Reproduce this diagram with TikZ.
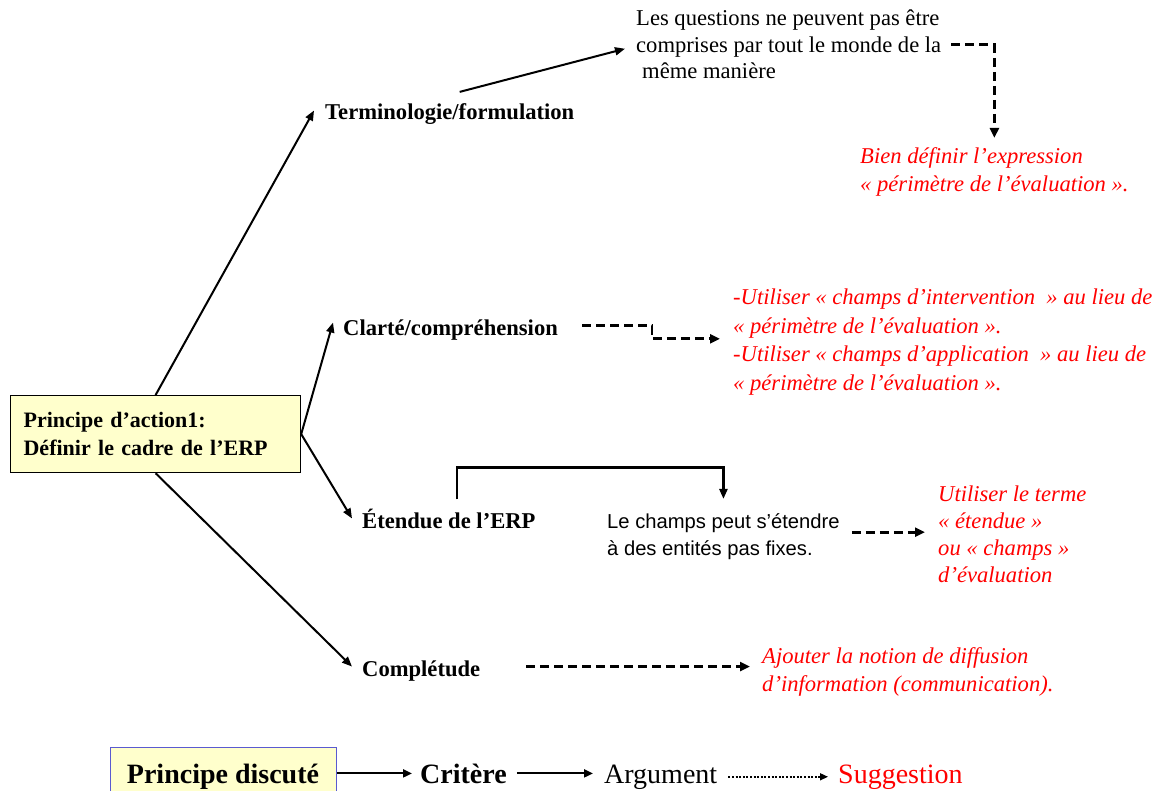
\documentclass[tikz,border=0pt]{standalone}
\usepackage{fontspec}
\setmainfont{Liberation Serif}
\newfontfamily\arialf{Liberation Sans}
\usetikzlibrary{arrows.meta}
\definecolor{boxfill}{HTML}{FFFFCC}
\definecolor{boxblue}{HTML}{5A5AD0}
\tikzset{
  critnode/.style={inner sep=0pt, anchor=base west, font=\bfseries\fontsize{22.6}{27}\selectfont},
  argnode/.style={inner sep=0pt, anchor=base west, align=left, font=\fontsize{22.6}{26.5}\selectfont},
  suggnode/.style={inner sep=0pt, anchor=base west, align=left, text=red, font=\itshape\fontsize{22.6}{28}\selectfont},
  link/.style={line width=2pt, -{Triangle[length=10pt,width=8pt]}},
  dlink/.style={line width=2.8pt, dash pattern=on 9pt off 5pt, -{Triangle[length=10pt,width=9pt]}},
  blink/.style={line width=2pt, -{Triangle[length=9pt,width=8pt]}},
  dotlink/.style={line width=1.5pt, dash pattern=on 2pt off 1.6pt, -{Triangle[length=8pt,width=7pt]}},
}
\begin{document}
\begin{tikzpicture}[x=1pt,y=-1pt]
\useasboundingbox[fill=white] (0,0) rectangle (1161,791);

% principle box
\node[draw=black, line width=1.2pt, fill=boxfill, anchor=north west, minimum width=290pt,
      minimum height=77pt, text width=264pt, inner xsep=13pt, inner ysep=0pt, align=left,
      font=\bfseries\fontsize{22}{28}\selectfont] (main) at (10,395)
  {Principe d’action1:\\Définir le cadre de l’ERP};

% criteria
\node[critnode] (term) at (325,120) {Terminologie/formulation};
\node[critnode] (clar) at (343,335) {Clarté/compréhension};
\node[critnode] (eten) at (362,528) {Étendue de l’ERP};
\node[critnode] (compl) at (362,676) {Complétude};

% arguments (anchored on the baseline of their last line)
\node[argnode] (ques) at (636,79) {Les questions ne peuvent pas être\\comprises par tout le monde de la\\\hspace{6pt}même manière};
\node[argnode, font=\arialf\fontsize{20.2}{27}\selectfont] (champ) at (607,555) {Le champs peut s’étendre\\à des entités pas fixes.};

% suggestions (anchored on the baseline of their last line)
\node[suggnode] (bien) at (860,192) {Bien définir l’expression\\« périmètre de l’évaluation ».};
\node[suggnode, font=\itshape\fontsize{22.6}{28.5}\selectfont] (clarS) at (733,390)
  {-Utiliser « champs d’intervention~ » au lieu de\\« périmètre de l’évaluation ».\\-Utiliser « champs d’application~ » au lieu de\\« périmètre de l’évaluation ».};
\node[suggnode, font=\itshape\fontsize{22.6}{27}\selectfont] (etS) at (938,582)
  {Utiliser le terme\\« étendue »\\ou « champs »\\d’évaluation};
\node[suggnode] (ajout) at (762,691) {Ajouter la notion de diffusion\\d’information (communication).};

% principle to criteria
\draw[link] (main.north) -- ([xshift=-11pt,yshift=4pt]term.west);
\draw[link] (main.east) -- ([xshift=-10pt,yshift=7pt]clar.west);
\draw[link] (main.east) -- ([xshift=-10pt]eten.west);
\draw[link] (main.south) -- ([xshift=-10pt,yshift=4pt]compl.west);

% criteria to arguments
\draw[link] ([xshift=10pt,yshift=12pt]term.north) -- ([xshift=-11pt,yshift=-4pt]ques.west);
\draw[link, line width=2.4pt] ([xshift=8pt,yshift=9pt]eten.north) -- ++(0,-32) -| ([yshift=14pt]champ.north);

% towards suggestions
\draw[dlink] ([xshift=10pt]ques.east) -| ([yshift=10pt]bien.north);
\draw[dlink] ([xshift=24pt,yshift=4pt]clar.east) -- ++(70,0) |- ([xshift=-13pt,yshift=3pt]clarS.west);
\coordinate (c1) at ([xshift=12pt,yshift=4pt]champ.east);
\draw[dlink, shorten >=13pt] (c1) -- (c1 -| etS.west);
\coordinate (c2) at ([xshift=46pt,yshift=4pt]compl.east);
\draw[dlink, shorten >=12pt] (c2) -- (c2 -| ajout.west);

% legend
\node[draw=boxblue, line width=1pt, fill=boxfill, minimum width=226pt, minimum height=60pt,
      inner sep=0pt, font=\bfseries\fontsize{28}{32}\selectfont] (pd) at (223,777) {Principe discuté};
\node[inner sep=0pt, anchor=base west, font=\bfseries\fontsize{28}{32}\selectfont] (crit2) at (420,783) {Critère};
\node[inner sep=0pt, anchor=base west, font=\fontsize{28}{32}\selectfont] (arg2) at (604,783) {Argument};
\node[inner sep=0pt, anchor=base west, text=red, font=\fontsize{28}{32}\selectfont] (sug2) at (838,783) {Suggestion};
\draw[blink] (pd.east |- crit2.west) -- ([xshift=-8pt]crit2.west);
\draw[blink] ([xshift=10pt]crit2.east) -- ([xshift=-11pt]crit2.east -| arg2.west);
\draw[dotlink] ([xshift=11pt]arg2.east) -- ([xshift=-10pt]arg2.east -| sug2.west);
\end{tikzpicture}
\end{document}
